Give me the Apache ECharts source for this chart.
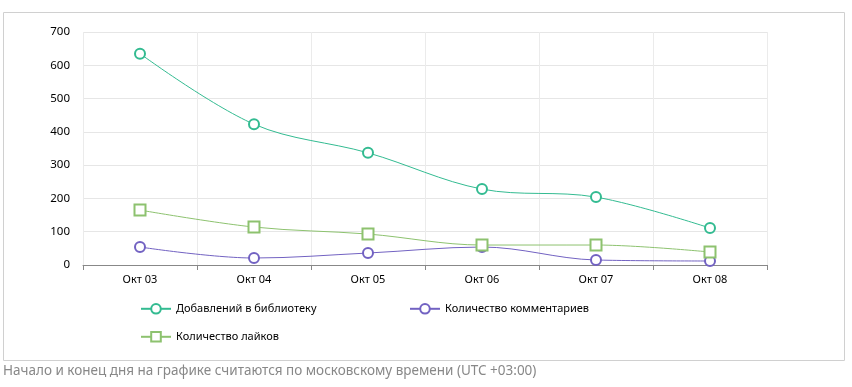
<!DOCTYPE html>
<html><head><meta charset="utf-8">
<script src="https://cdn.jsdelivr.net/npm/echarts@6/dist/echarts.min.js"></script>
<style>html,body{margin:0;padding:0;background:#fff}#c{width:852px;height:387px}</style>
</head><body><div id="c"></div>
<script>
const categories = ['Окт 03','Окт 04','Окт 05','Окт 06','Окт 07','Окт 08'];
const library = [635, 423, 337, 228, 204, 111];
const comments = [54, 21, 36, 54, 15, 12];
const likes = [165, 114, 93, 60, 60, 39];
const yTicks = {min: 0, max: 700, interval: 100};
const names = ['Добавлений в библиотеку','Количество комментариев','Количество лайков'];
const colors = ['#33bb91','#7262c2','#8dc26f'];
const font = '"Noto Sans", sans-serif';

const chart = echarts.init(document.getElementById('c'), null, {renderer:'canvas'});
const legendBase = {itemWidth: 30, itemHeight: 12, itemGap: 10,
  textStyle: {color: '#000', fontSize: 11, fontFamily: font}};
chart.setOption({
  animation: false,
  graphic: [
    {type:'rect', shape:{x:3.5,y:12.5,width:841,height:348}, style:{fill:'none', stroke:'#d0d0d0', lineWidth:1}, silent:true, z:-10},
    {type:'text', left:3, top:364, style:{text:'Начало и конец дня на графике считаются по московскому времени (UTC +03:00)', fill:'#888', font:'13.5px ' + font}}
  ],
  grid: {left: 83, right: 85, top: 32, bottom: 122},
  legend: [
    Object.assign({}, legendBase, {data:[names[0]], left: 135, top: 298}),
    Object.assign({}, legendBase, {data:[names[1]], left: 404, top: 298}),
    Object.assign({}, legendBase, {data:[names[2]], left: 135, top: 326})
  ],
  xAxis: {
    type: 'category', data: categories, boundaryGap: true,
    axisLine: {lineStyle: {color: '#888'}},
    axisTick: {show: true, alignWithLabel: false, length: 5, lineStyle: {color: '#888'}},
    axisLabel: {color: '#000', fontSize: 11, fontFamily: font, margin: 9},
    splitLine: {show: true, lineStyle: {color: '#ebebeb'}}
  },
  yAxis: {
    type: 'value', min: yTicks.min, max: yTicks.max, interval: yTicks.interval,
    axisLine: {show: false}, axisTick: {show: false},
    axisLabel: {color: '#000', fontSize: 11.5, fontFamily: font, margin: 13},
    splitLine: {lineStyle: {color: '#e6e6e6'}}
  },
  series: [
    {name: names[0], type: 'line', smooth: 0.35, data: library, symbol: 'emptyCircle', symbolSize: 10,
     lineStyle: {color: colors[0], width: 1}, itemStyle: {color: colors[0], borderWidth: 2.5}, z: 3},
    {name: names[1], type: 'line', smooth: 0.35, data: comments, symbol: 'emptyCircle', symbolSize: 10,
     lineStyle: {color: colors[1], width: 1}, itemStyle: {color: colors[1], borderWidth: 2.5}, z: 2},
    {name: names[2], type: 'line', smooth: 0.35, data: likes, symbol: 'emptyRect', symbolSize: 11,
     lineStyle: {color: colors[2], width: 1}, itemStyle: {color: colors[2], borderWidth: 2.5}, z: 4}
  ]
});
</script></body></html>
